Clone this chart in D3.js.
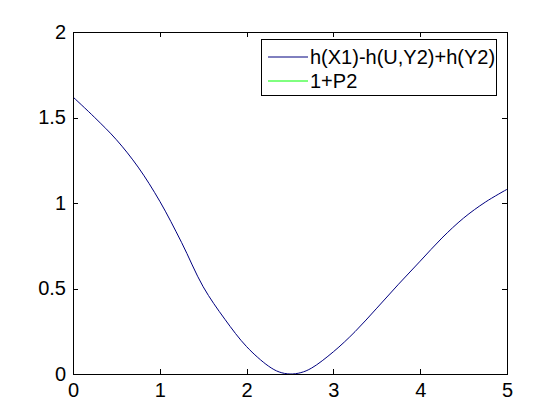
<!DOCTYPE html>
<html lang="en">
	<head>
		<meta charset="utf-8">
		<title>h(X1)-h(U,Y2)+h(Y2)</title>
		<script type="text/javascript" src="https://cdn.jsdelivr.net/npm/d3@7"></script>
		<style type="text/css">
			body { margin: 0; background: #fff; }
			text { font-family: "Liberation Sans", Arial, sans-serif; }
		</style>
	</head>
	<body>
		<script type="text/javascript">
			//Data
			var xValues = [0, 0.25, 0.5, 0.75, 1.0, 1.25, 1.5, 1.75, 2.0, 2.25, 2.375, 2.5, 2.625, 2.75, 3.0, 3.25, 3.5, 3.75, 4.0, 4.25, 4.5, 4.75, 5.0];
			var hValues = [1.62, 1.50, 1.37, 1.21, 1.01, 0.77, 0.51, 0.32, 0.16, 0.047, 0.012, 0.0, 0.008, 0.035, 0.13, 0.248, 0.385, 0.525, 0.66, 0.795, 0.912, 1.005, 1.08];
			var seriesNames = ["h(X1)-h(U,Y2)+h(Y2)", "1+P2"];
			var seriesColors = ["#00007f", "#00ff00"];
			var xTicks = [0, 1, 2, 3, 4, 5];
			var yTicks = [0, 0.5, 1, 1.5, 2];

			//Width and height
			var w = 560;
			var h = 420;
			var mLeft = 73, mRight = 507, mTop = 32, mBottom = 374;

			var xScale = d3.scaleLinear().domain([0, 5]).range([mLeft, mRight]);
			var yScale = d3.scaleLinear().domain([0, 2]).range([mBottom, mTop]);

			var svg = d3.select("body")
						.append("svg")
						.attr("width", w)
						.attr("height", h);

			svg.append("rect")
				.attr("width", w)
				.attr("height", h)
				.attr("fill", "white");

			//axes box
			svg.append("rect")
				.attr("x", mLeft)
				.attr("y", mTop)
				.attr("width", mRight - mLeft)
				.attr("height", mBottom - mTop)
				.attr("fill", "white")
				.attr("stroke", "black")
				.attr("stroke-width", 1)
				.attr("shape-rendering", "crispEdges");

			//curve
			var data = xValues.map(function(x, i) { return {x: x, y: hValues[i]}; });
			var line = d3.line()
						.x(function(d) { return xScale(d.x); })
						.y(function(d) { return Math.min(yScale(d.y), mBottom); })
						.curve(d3.curveCatmullRom.alpha(0.5));
			svg.append("path")
				.datum(data)
				.attr("d", line)
				.attr("fill", "none")
				.attr("stroke", seriesColors[0])
				.attr("stroke-width", 1);

			//axes with inward ticks (bottom, top, left, right)
			var xAxis = d3.axisBottom(xScale).tickValues(xTicks).tickSize(-5).tickPadding(9).tickFormat(d3.format("d"));
			var xAxisTop = d3.axisTop(xScale).tickValues(xTicks).tickSize(-5).tickFormat("");
			var yAxis = d3.axisLeft(yScale).tickValues(yTicks).tickSize(-5).tickPadding(7).tickFormat(function(d) { return String(d); });
			var yAxisRight = d3.axisRight(yScale).tickValues(yTicks).tickSize(-5).tickFormat("");

			function style(g) {
				g.select(".domain").attr("stroke", "black").attr("shape-rendering", "crispEdges");
				g.selectAll(".tick line").attr("stroke", "black").attr("shape-rendering", "crispEdges");
				g.selectAll("text")
					.attr("fill", "black")
					.attr("font-size", "20px")
					.attr("font-family", "Liberation Sans, Arial, sans-serif");
			}

			svg.append("g").attr("transform", "translate(0," + mBottom + ")").call(xAxis).call(style);
			svg.append("g").attr("transform", "translate(0," + mTop + ")").call(xAxisTop).call(style);
			svg.append("g").attr("transform", "translate(" + mLeft + ",0)").call(yAxis).call(style);
			svg.append("g").attr("transform", "translate(" + mRight + ",0)").call(yAxisRight).call(style);

			//legend
			var legend = svg.append("g").attr("transform", "translate(261,39)");
			legend.append("rect")
				.attr("width", 235)
				.attr("height", 56)
				.attr("fill", "white")
				.attr("stroke", "black")
				.attr("shape-rendering", "crispEdges");
			var items = legend.selectAll("g.item")
				.data(seriesNames)
				.enter()
				.append("g")
				.attr("class", "item")
				.attr("transform", function(d, i) { return "translate(0," + (18 + i * 24) + ")"; });
			items.append("line")
				.attr("x1", 7)
				.attr("x2", 47)
				.attr("stroke", function(d, i) { return seriesColors[i]; })
				.attr("stroke-width", 1);
			items.append("text")
				.attr("x", 49)
				.attr("y", 7)
				.attr("font-size", "20px")
				.attr("fill", "black")
				.text(function(d) { return d; });
		</script>
</body>
</html>
